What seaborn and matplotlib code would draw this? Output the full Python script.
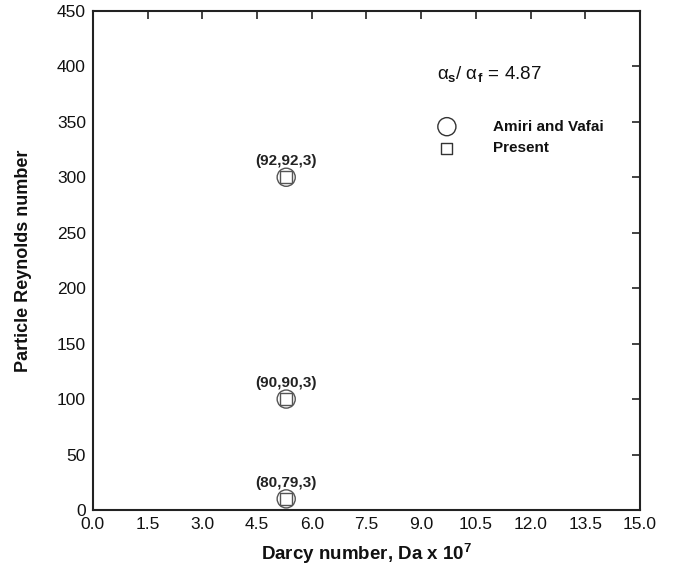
import matplotlib
matplotlib.use("Agg")
import matplotlib.pyplot as plt
import seaborn as sns
import pandas as pd

sns.set_theme(style="white")
plt.rcParams['font.family'] = ['Liberation Sans', 'DejaVu Sans']
plt.rcParams['mathtext.fontset'] = 'custom'
plt.rcParams['mathtext.rm'] = 'Liberation Sans'
plt.rcParams['mathtext.it'] = 'Liberation Sans'
plt.rcParams['mathtext.bf'] = 'Liberation Sans:bold'

# Darcy number (x 1e7) and particle Reynolds number
darcy = [5.3, 5.3, 5.3]
re_amiri = [300, 100, 10]
re_present = [300, 100, 10]
point_labels = ["(92,92,3)", "(90,90,3)", "(80,79,3)"]

df = pd.DataFrame({"Da": darcy * 2,
                   "Re": re_amiri + re_present,
                   "Source": ["Amiri and Vafai"] * 3 + ["Present"] * 3})

fig = plt.figure(figsize=(6.73, 5.73), dpi=100)
ax = fig.add_axes([0.138, 0.110, 0.813, 0.871])

sns.scatterplot(data=df, x="Da", y="Re", style="Source",
                markers={"Amiri and Vafai": "o", "Present": "s"},
                size="Source", sizes={"Amiri and Vafai": 170, "Present": 75},
                facecolor="none", edgecolor="#555555", linewidth=1.0,
                legend=False, ax=ax)

for x, y, t in zip(darcy, re_amiri, point_labels):
    ax.annotate(t, (x, y), xytext=(0, 6.5), textcoords="offset points",
                ha="center", va="bottom", fontsize=11, fontweight="bold",
                color="#222222")

ax.set_xlim(0, 15)
ax.set_ylim(0, 450)
ax.set_xticks([0, 1.5, 3, 4.5, 6, 7.5, 9, 10.5, 12, 13.5, 15])
ax.set_xticklabels([f"{v:.1f}" for v in ax.get_xticks()])
ax.set_yticks(range(0, 451, 50))

for s in ax.spines.values():
    s.set_color("#222222")
    s.set_linewidth(1.5)
ax.tick_params(direction="in", length=6, width=1.2, colors="#222222",
               labelsize=12.5, top=True, right=True, labelcolor="#111111", pad=5)

ax.set_xlabel(r"Darcy number, Da x 10$^{\mathbf{7}}$", fontsize=13.5,
              fontweight="bold", labelpad=7, color="#111111")
ax.set_ylabel("Particle Reynolds number", fontsize=13, fontweight="bold",
              labelpad=18, color="#111111")

# Property ratio annotation and a hand-placed legend
ax.text(0.629, 0.874, r"$\alpha_{\mathbf{s}}/\;\alpha_{\,\mathbf{f}}$ = 4.87",
        transform=ax.transAxes, va="center", fontsize=13.5, color="#111111")
ax.scatter([0.647], [0.768], s=170, marker="o", facecolor="none",
           edgecolor="#333333", linewidth=1.0, transform=ax.transAxes, clip_on=False)
ax.scatter([0.647], [0.725], s=65, marker="s", facecolor="none",
           edgecolor="#333333", linewidth=1.0, transform=ax.transAxes, clip_on=False)
ax.text(0.731, 0.768, "Amiri and Vafai", transform=ax.transAxes, va="center",
        fontsize=11, fontweight="bold", color="#111111")
ax.text(0.731, 0.725, "Present", transform=ax.transAxes, va="center",
        fontsize=11, fontweight="bold", color="#111111")

fig.savefig("out.png", dpi=100)
